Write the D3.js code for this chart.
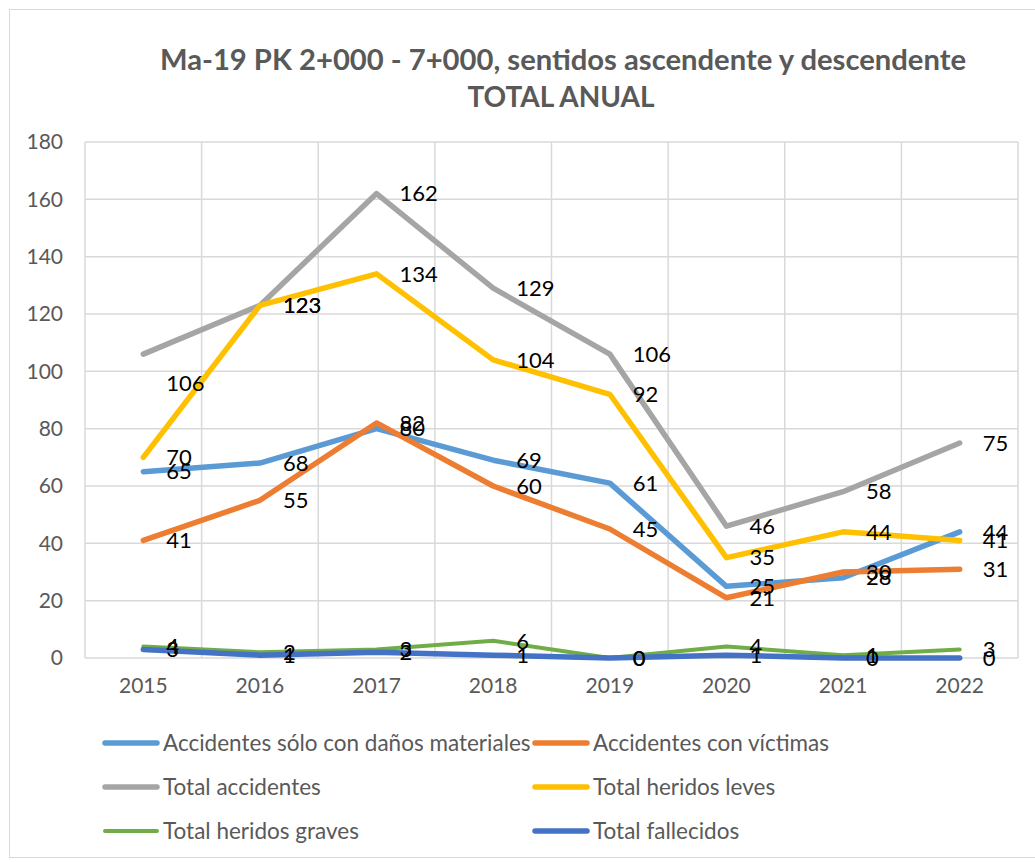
<!DOCTYPE html>
<html>
<head>
  <meta charset="utf-8">
  <script src="https://d3js.org/d3.v7.min.js"></script>
  <style>
    body { margin: 0; background: #fff; }
    text { font-family: Lato, "Open Sans", sans-serif; }
  </style>
</head>
<body>
  <svg id="chart" width="1035" height="862"></svg>
  <script>
    // data
    const years = ["2015", "2016", "2017", "2018", "2019", "2020", "2021", "2022"];
    const danosMateriales = [65, 68, 80, 69, 61, 25, 28, 44];
    const conVictimas = [41, 55, 82, 60, 45, 21, 30, 31];
    const totalAccidentes = [106, 123, 162, 129, 106, 46, 58, 75];
    const heridosLeves = [70, 123, 134, 104, 92, 35, 44, 41];
    const heridosGraves = [4, 2, 3, 6, 0, 4, 1, 3];
    const fallecidos = [3, 1, 2, 1, 0, 1, 0, 0];
    const yTicks = [0, 20, 40, 60, 80, 100, 120, 140, 160, 180];

    const series = [
      { name: "Accidentes sólo con daños materiales", values: danosMateriales, color: "#5B9BD5", w: 5.5 },
      { name: "Accidentes con víctimas", values: conVictimas, color: "#ED7D31", w: 5.5 },
      { name: "Total accidentes", values: totalAccidentes, color: "#A5A5A5", w: 5.5 },
      { name: "Total heridos leves", values: heridosLeves, color: "#FFC000", w: 5.5 },
      { name: "Total heridos graves", values: heridosGraves, color: "#70AD47", w: 4 },
      { name: "Total fallecidos", values: fallecidos, color: "#4472C4", w: 5.5 }
    ];

    const svg = d3.select("#chart");
    const margin = { left: 85, right: 1018, top: 142, bottom: 658 };

    // outer chart border
    svg.append("rect")
      .attr("x", 9.5).attr("y", 9.5)
      .attr("width", 1040).attr("height", 848)
      .attr("fill", "none").attr("stroke", "#D9D9D9").attr("stroke-width", 1);

    const x = d3.scaleBand().domain(years).range([margin.left, margin.right]);
    const y = d3.scaleLinear().domain([0, 180]).range([margin.bottom, margin.top]);
    const cx = d => x(d) + x.bandwidth() / 2;

    // title
    svg.append("text")
      .attr("x", 563).attr("y", 70)
      .attr("text-anchor", "middle")
      .attr("font-size", 28).attr("font-weight", "bold").attr("fill", "#595959")
      .attr("textLength", 806).attr("lengthAdjust", "spacingAndGlyphs")
      .text("Ma-19 PK 2+000 - 7+000, sentidos ascendente y descendente");
    svg.append("text")
      .attr("x", 561).attr("y", 107)
      .attr("text-anchor", "middle")
      .attr("font-size", 28).attr("font-weight", "bold").attr("fill", "#595959")
      .text("TOTAL ANUAL");

    // gridlines
    const grid = svg.append("g");
    grid.selectAll("line.h").data(yTicks).join("line")
      .attr("x1", margin.left).attr("x2", margin.right)
      .attr("y1", d => y(d)).attr("y2", d => y(d))
      .attr("stroke", "#D9D9D9").attr("stroke-width", 1.5);
    const vx = years.map(d => x(d)).concat([margin.right]);
    grid.selectAll("line.v").data(vx).join("line")
      .attr("x1", d => d).attr("x2", d => d)
      .attr("y1", margin.top).attr("y2", margin.bottom)
      .attr("stroke", "#D9D9D9").attr("stroke-width", 1.5);

    // axes
    const leftAxis = d3.axisLeft(y).tickValues(yTicks).tickSize(0).tickPadding(22);
    const la = svg.append("g").attr("transform", `translate(${margin.left},0)`).call(leftAxis);
    la.select(".domain").remove();
    la.selectAll("text").attr("font-size", 21).attr("fill", "#595959").attr("font-family", "Lato");

    const bottomAxis = d3.axisBottom(x).tickSize(0).tickPadding(20);
    const ba = svg.append("g").attr("transform", `translate(0,${margin.bottom})`).call(bottomAxis);
    ba.select(".domain").remove();
    ba.selectAll("text").attr("font-size", 21).attr("fill", "#595959").attr("font-family", "Lato");

    // lines
    const line = d3.line().x((d, i) => cx(years[i])).y(d => y(d));
    series.forEach(s => {
      svg.append("path")
        .attr("d", line(s.values))
        .attr("fill", "none")
        .attr("stroke", s.color)
        .attr("stroke-width", s.w)
        .attr("stroke-linejoin", "round")
        .attr("stroke-linecap", "round");
    });

    // data labels (right of point)
    series.forEach((s, si) => {
      s.values.forEach((v, i) => {
        let dy = 0;
        if (si === 2 && i === 0) dy = 29;
        svg.append("text")
          .attr("x", cx(years[i]) + 23)
          .attr("y", y(v) + dy)
          .attr("dy", "0.35em")
          .attr("font-size", 22).attr("fill", "#000")
          .text(v);
      });
    });

    // legend
    const legendPos = [[105, 743], [535, 743], [105, 787], [535, 787], [105, 831], [535, 831]];
    series.forEach((s, i) => {
      const [lx, ly] = legendPos[i];
      svg.append("line")
        .attr("x1", lx).attr("x2", lx + 52)
        .attr("y1", ly).attr("y2", ly)
        .attr("stroke", s.color).attr("stroke-width", s.w)
        .attr("stroke-linecap", "round");
      svg.append("text")
        .attr("x", lx + 58).attr("y", ly)
        .attr("dy", "0.35em")
        .attr("font-size", 22.5).attr("fill", "#595959")
        .text(s.name);
    });
  </script>
</body>
</html>
